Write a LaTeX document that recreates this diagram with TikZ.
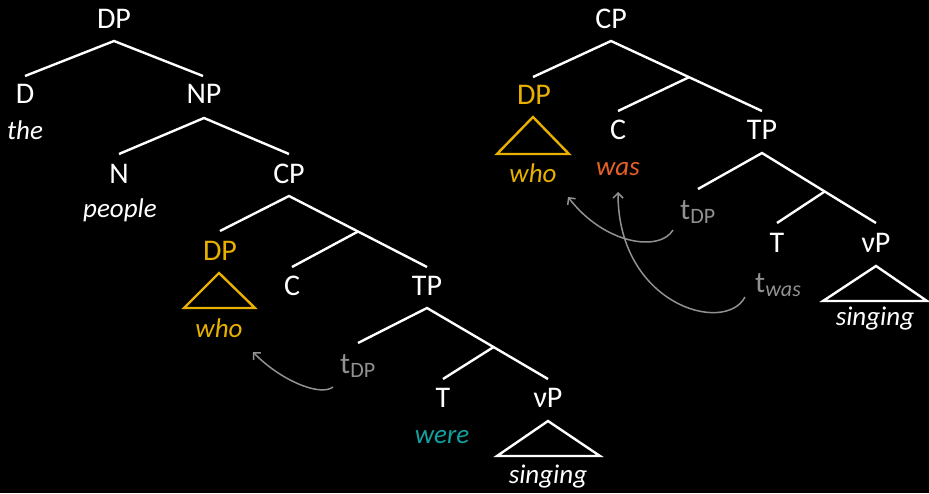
\documentclass[tikz,border=0pt]{standalone}
\usepackage{fontspec}
\setmainfont{Carlito}
\usetikzlibrary{arrows.meta,calc}
\definecolor{whoyellow}{RGB}{232,176,0}
\definecolor{wasorange}{RGB}{232,96,40}
\definecolor{wereteal}{RGB}{20,160,160}
\definecolor{tracegrey}{RGB}{145,145,145}
% trace with a lowered, smaller subscript
\newcommand\trc[1]{t\raisebox{-4pt}{\fontsize{22}{26}\selectfont #1}}
\begin{document}
\begin{tikzpicture}[x=1pt,y=-1pt,
  cat/.style={anchor=base, text=white, font=\fontsize{30}{36}\selectfont, inner sep=0pt},
  word/.style={anchor=base, text=white, font=\fontsize{27}{32}\selectfont\itshape, inner sep=0pt},
  trace/.style={anchor=base west, text=tracegrey, font=\fontsize{30}{36}\selectfont, inner sep=0pt},
  branch/.style={draw=white, line width=2.4pt},
  roof/.style={draw=white, line width=2.4pt, line join=miter},
  move/.style={draw=tracegrey, line width=1.5pt, -{Straight Barb[length=5pt,width=10pt]}}]
\fill[black] (0,0) rectangle (929,493);
\useasboundingbox (0,0) rectangle (929,493);

% ---------- left tree: the people who were singing ----------
\node[cat] (ldp) at (114,28) {DP};
\node[cat] (ld) at (25,103) {D};
\node[word] (lthe) at (25,139) {the};
\node[cat] (lnp) at (204,103) {NP};
\node[cat] (ln) at (119,183) {N};
\node[word] (lpeople) at (120,217) {people};
\node[cat] (lcp) at (289,183) {CP};
\node[cat, text=whoyellow] (lwhdp) at (220,260) {DP};
\node[word, text=whoyellow] (lwho) at (219,337) {who};
\node[cat] (lc) at (292,295) {C};
\node[cat] (ltp) at (427,295) {TP};
\node[trace] (ltrace) at (340,373) {\trc{DP}};
\node[cat] (lt) at (443,407) {T};
\node[word, text=wereteal] (lwere) at (442,443) {were};
\node[cat] (lvp) at (548,407) {νP};
\node[word] (lsing) at (548,483) {singing};

\coordinate (ldp-top) at (114,41);
\coordinate (ld-end) at (25,76);
\coordinate (lnp-end) at (203,76);
\coordinate (lnp-top) at (204,118);
\coordinate (ln-end) at (119,154);
\coordinate (lcp-end) at (289,154);
\coordinate (lcp-top) at (289,196);
\coordinate (lwh-end) at (220,231);
\coordinate (ltp-end) at (427,267);
\coordinate (lcbar) at ($(lcp-top)!0.5!(ltp-end)$);
\coordinate (lc-end) at (292,267);
\coordinate (ltp-top) at (427,308);
\coordinate (ltr-end) at (358,343);
\coordinate (lvp-end) at (548,379);
\coordinate (ltbar) at ($(ltp-top)!0.55!(lvp-end)$);
\coordinate (lt-end) at (443,379);

\draw[branch] (ld-end) -- (ldp-top) -- (lnp-end);
\draw[branch] (ln-end) -- (lnp-top) -- (lcp-end);
\draw[branch] (lwh-end) -- (lcp-top) -- (ltp-end);
\draw[branch] (lc-end) -- (lcbar);
\draw[branch] (ltr-end) -- (ltp-top) -- (lvp-end);
\draw[branch] (lt-end) -- (ltbar);

\coordinate (lroof-a) at (219,273);
\coordinate (lroof-b) at (184,308);
\coordinate (lroof-c) at (255,308);
\draw[roof, draw=whoyellow] (lroof-a) -- (lroof-b) -- (lroof-c) -- cycle;
\coordinate (lvroof-a) at (548,421);
\coordinate (lvroof-b) at (497,456);
\coordinate (lvroof-c) at (600,456);
\draw[roof] (lvroof-a) -- (lvroof-b) -- (lvroof-c) -- cycle;

\coordinate (lmv-from) at (333,387);
\coordinate (lmv-to) at (253,352);
\draw[move] (lmv-from) .. controls (320,397) and (280,380) .. (lmv-to);

% ---------- right tree: who was singing ----------
\node[cat] (rcp) at (611,28) {CP};
\node[cat, text=whoyellow] (rwhdp) at (534,104) {DP};
\node[word, text=whoyellow] (rwho) at (533,182) {who};
\node[cat] (rc) at (618,139) {C};
\node[word, text=wasorange] (rwas) at (618,175) {was};
\node[cat] (rtp) at (762,139) {TP};
\node[trace] (rtrace) at (680,219) {\trc{DP}};
\node[cat] (rt) at (777,252) {T};
\node[trace] (rtwas) at (755,292) {t\raisebox{-4pt}{\fontsize{22}{26}\selectfont\itshape was}};
\node[cat] (rvp) at (876,252) {νP};
\node[word] (rsing) at (875,325) {singing};

\coordinate (rcp-top) at (611,41);
\coordinate (rwh-end) at (533,77);
\coordinate (rtp-end) at (762,111);
\coordinate (rcbar) at ($(rcp-top)!0.517!(rtp-end)$);
\coordinate (rc-end) at (618,111);
\coordinate (rtp-top) at (762,153);
\coordinate (rtr-end) at (698,189);
\coordinate (rvp-end) at (876,223);
\coordinate (rtbar) at ($(rtp-top)!0.55!(rvp-end)$);
\coordinate (rt-end) at (777,223);

\draw[branch] (rwh-end) -- (rcp-top) -- (rtp-end);
\draw[branch] (rc-end) -- (rcbar);
\draw[branch] (rtr-end) -- (rtp-top) -- (rvp-end);
\draw[branch] (rt-end) -- (rtbar);

\coordinate (rroof-a) at (533,117);
\coordinate (rroof-b) at (497,154);
\coordinate (rroof-c) at (569,154);
\draw[roof, draw=whoyellow] (rroof-a) -- (rroof-b) -- (rroof-c) -- cycle;
\coordinate (rvroof-a) at (876,266);
\coordinate (rvroof-b) at (823,301);
\coordinate (rvroof-c) at (927,301);
\draw[roof] (rvroof-a) -- (rvroof-b) -- (rvroof-c) -- cycle;

\coordinate (rmv1-from) at (673,230);
\coordinate (rmv1-to) at (568,197);
\draw[move] (rmv1-from) .. controls (660,252) and (605,245) .. (rmv1-to);
\coordinate (rmv2-from) at (745,297);
\coordinate (rmv2-to) at (618,192);
\draw[move] (rmv2-from) .. controls (725,335) and (618,305) .. (rmv2-to);
\end{tikzpicture}
\end{document}
